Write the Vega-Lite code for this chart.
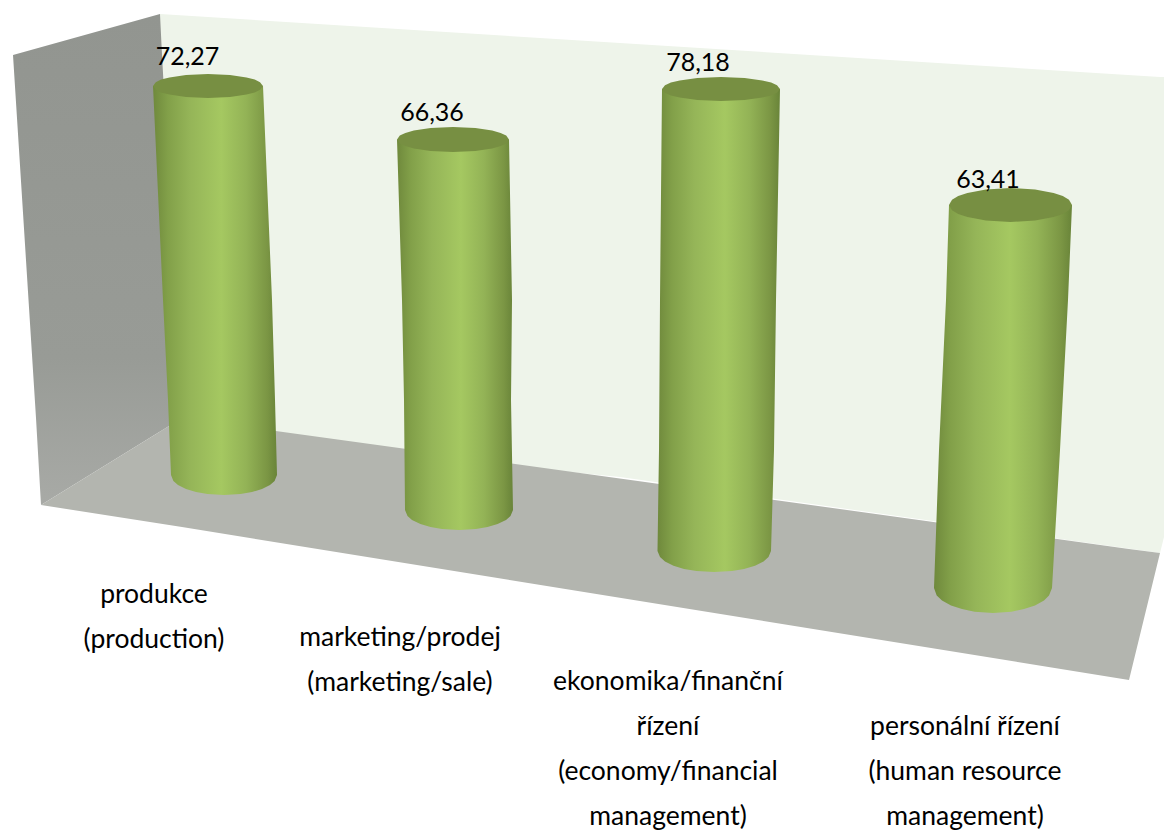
{"$schema":"https://vega.github.io/schema/vega-lite/v6.json","width":1164,"height":831,"padding":0,"autosize":{"type":"fit","contains":"padding"},"background":"#ffffff","config":{"view":{"stroke":null}},
"encoding":{"x":{"field":"x","type":"quantitative","scale":{"domain":[0,1164],"nice":false,"zero":false},"axis":null},"y":{"field":"y","type":"quantitative","scale":{"domain":[831,0],"nice":false,"zero":false},"axis":null}},
"layer":[
{"data":{"values":[{"x":160,"y":14,"y2":432},{"x":620,"y":43,"y2":477},{"x":1160,"y":77,"y2":553},{"x":1164,"y":77,"y2":537}]},"mark":{"type":"area","orient":"vertical","fill":"#eef4ea","clip":true},"encoding":{"y2":{"field":"y2"}}},
{"data":{"values":[{"y":14,"x":160,"x2":160},{"y":55,"x":13,"x2":162},{"y":418,"x":36,"x2":182},{"y":505,"x":41,"x2":41}]},"mark":{"type":"area","orient":"horizontal","fill":{"gradient":"linear","x1":0,"y1":0,"x2":0,"y2":1,"stops":[{"offset":0,"color":"#929590"},{"offset":0.7,"color":"#989b96"},{"offset":1,"color":"#a8aaa6"}]}},"encoding":{"x2":{"field":"x2"}}},
{"data":{"values":[{"x":41,"y":505,"y2":505},{"x":182,"y":418,"y2":527},{"x":1129,"y":549,"y2":680},{"x":1160,"y":553,"y2":553}]},"mark":{"type":"area","orient":"vertical","fill":"#b3b5af"},"encoding":{"y2":{"field":"y2"}}},
{"data":{"values":[
{"c":"produkce","y":86,"x":153,"x2":263},{"c":"produkce","y":300,"x":163,"x2":272},{"c":"produkce","y":400,"x":168,"x2":275},{"c":"produkce","y":475,"x":171,"x2":277},{"c":"produkce","y":481,"x":173.4,"x2":274.6},{"c":"produkce","y":485,"x":178,"x2":270},{"c":"produkce","y":489,"x":186,"x2":262},{"c":"produkce","y":492,"x":196,"x2":252},{"c":"produkce","y":494,"x":207.5,"x2":240.5},{"c":"produkce","y":495,"x":224,"x2":224},
{"c":"marketing","y":139.5,"x":397,"x2":509},{"c":"marketing","y":300,"x":402,"x2":512},{"c":"marketing","y":400,"x":404,"x2":511},{"c":"marketing","y":510,"x":405,"x2":513},{"c":"marketing","y":516,"x":407.5,"x2":510.5},{"c":"marketing","y":520,"x":412,"x2":506},{"c":"marketing","y":524,"x":420.4,"x2":497.6},{"c":"marketing","y":527,"x":430.5,"x2":487.5},{"c":"marketing","y":529,"x":442,"x2":476},{"c":"marketing","y":530,"x":459,"x2":459},
{"c":"ekonomika","y":89,"x":662,"x2":780},{"c":"ekonomika","y":300,"x":660,"x2":776},{"c":"ekonomika","y":450,"x":659,"x2":774},{"c":"ekonomika","y":551,"x":657.5,"x2":771},{"c":"ekonomika","y":557,"x":660,"x2":768.5},{"c":"ekonomika","y":561.5,"x":665,"x2":763.5},{"c":"ekonomika","y":565.7,"x":673.5,"x2":755},{"c":"ekonomika","y":569,"x":684,"x2":744},{"c":"ekonomika","y":571,"x":696.5,"x2":732},{"c":"ekonomika","y":572,"x":714,"x2":714},
{"c":"personalni","y":205,"x":949,"x2":1072},{"c":"personalni","y":300,"x":946,"x2":1068},{"c":"personalni","y":450,"x":939,"x2":1060},{"c":"personalni","y":588,"x":934,"x2":1052},{"c":"personalni","y":595.5,"x":936.7,"x2":1049},{"c":"personalni","y":600.5,"x":942,"x2":1044},{"c":"personalni","y":605.5,"x":951,"x2":1035},{"c":"personalni","y":609,"x":962,"x2":1024},{"c":"personalni","y":611.8,"x":974.6,"x2":1011.4},{"c":"personalni","y":613,"x":993,"x2":993}
]},"mark":{"type":"area","orient":"horizontal","fill":{"gradient":"linear","x1":0,"y1":0,"x2":1,"y2":0,"stops":[{"offset":0,"color":"#6f893c"},{"offset":0.12,"color":"#82a049"},{"offset":0.3,"color":"#95b558"},{"offset":0.55,"color":"#a5c861"},{"offset":0.75,"color":"#93b356"},{"offset":0.92,"color":"#7b9644"},{"offset":1,"color":"#698439"}]}},"encoding":{"x2":{"field":"x2"},"detail":{"field":"c"}}},
{"data":{"values":[
{"c":"produkce","x":153,"y":86,"y2":86},{"c":"produkce","x":155.75,"y":82.3,"y2":89.7},{"c":"produkce","x":161,"y":79.6,"y2":92.4},{"c":"produkce","x":169.5,"y":77.5,"y2":94.5},{"c":"produkce","x":186,"y":75,"y2":97},{"c":"produkce","x":208,"y":74,"y2":98},{"c":"produkce","x":230,"y":75,"y2":97},{"c":"produkce","x":246.5,"y":77.5,"y2":94.5},{"c":"produkce","x":254.75,"y":79.6,"y2":92.4},{"c":"produkce","x":260,"y":82.3,"y2":89.7},{"c":"produkce","x":263,"y":86,"y2":86},
{"c":"marketing","x":397,"y":139.5,"y2":139.5},{"c":"marketing","x":399.8,"y":135.6,"y2":143.4},{"c":"marketing","x":405.4,"y":132.9,"y2":146.1},{"c":"marketing","x":413.8,"y":130.6,"y2":148.4},{"c":"marketing","x":430.6,"y":128,"y2":151},{"c":"marketing","x":453,"y":127,"y2":152},{"c":"marketing","x":475.4,"y":128,"y2":151},{"c":"marketing","x":492.2,"y":130.6,"y2":148.4},{"c":"marketing","x":500.6,"y":132.9,"y2":146.1},{"c":"marketing","x":506.2,"y":135.6,"y2":143.4},{"c":"marketing","x":509,"y":139.5,"y2":139.5},
{"c":"ekonomika","x":662,"y":89,"y2":89},{"c":"ekonomika","x":665,"y":85.3,"y2":92.7},{"c":"ekonomika","x":670.9,"y":82.6,"y2":95.4},{"c":"ekonomika","x":679.7,"y":80.5,"y2":97.5},{"c":"ekonomika","x":697.4,"y":78,"y2":100},{"c":"ekonomika","x":721,"y":77,"y2":101},{"c":"ekonomika","x":744.6,"y":78,"y2":100},{"c":"ekonomika","x":762.3,"y":80.5,"y2":97.5},{"c":"ekonomika","x":771.2,"y":82.6,"y2":95.4},{"c":"ekonomika","x":777,"y":85.3,"y2":92.7},{"c":"ekonomika","x":780,"y":89,"y2":89},
{"c":"personalni","x":949,"y":205,"y2":205},{"c":"personalni","x":952,"y":199.7,"y2":210.3},{"c":"personalni","x":958.2,"y":196,"y2":214},{"c":"personalni","x":967.4,"y":192.9,"y2":217.1},{"c":"personalni","x":985.9,"y":189.4,"y2":220.6},{"c":"personalni","x":1010.5,"y":188,"y2":222},{"c":"personalni","x":1035.1,"y":189.4,"y2":220.6},{"c":"personalni","x":1053.6,"y":192.9,"y2":217.1},{"c":"personalni","x":1062.8,"y":196,"y2":214},{"c":"personalni","x":1069,"y":199.7,"y2":210.3},{"c":"personalni","x":1072,"y":205,"y2":205}
]},"mark":{"type":"area","orient":"vertical","fill":"#778f42"},"encoding":{"y2":{"field":"y2"},"detail":{"field":"c"}}},
{"data":{"values":[
{"category":"produkce (production)","value":72.27,"label":"72,27","x":187.5,"y":65},
{"category":"marketing/prodej (marketing/sale)","value":66.36,"label":"66,36","x":432,"y":121},
{"category":"ekonomika/finanční řízení (economy/financial management)","value":78.18,"label":"78,18","x":698,"y":71},
{"category":"personální řízení (human resource management)","value":63.41,"label":"63,41","x":988,"y":188}
]},"mark":{"type":"text","font":"Lato","fontSize":25,"align":"center","baseline":"alphabetic","fill":"#000000"},"encoding":{"text":{"field":"label"}}},
{"data":{"values":[
{"label":"produkce\n(production)","x":154,"y":603},
{"label":"marketing/prodej\n(marketing/sale)","x":400,"y":646},
{"label":"ekonomika/finanční\nřízení\n(economy/financial\nmanagement)","x":668,"y":690},
{"label":"personální řízení\n(human resource\nmanagement)","x":965,"y":735}
]},"mark":{"type":"text","font":"Lato","fontSize":26.5,"lineHeight":45,"lineBreak":"\n","align":"center","baseline":"alphabetic","fill":"#000000"},"encoding":{"text":{"field":"label"}}}
]}
